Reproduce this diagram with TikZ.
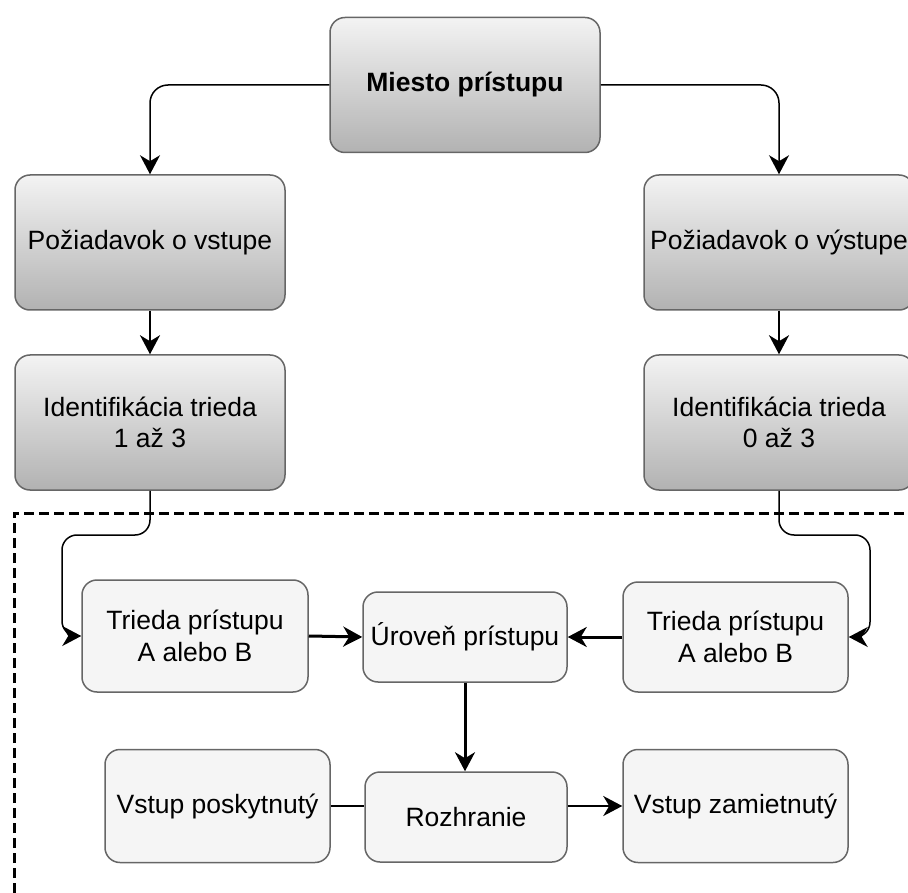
\documentclass[tikz,border=0pt]{standalone}
\usepackage{fontspec}
\setmainfont{Liberation Sans}
\usetikzlibrary{arrows.meta}

\definecolor{boxline}{HTML}{666666}
\definecolor{boxfill}{HTML}{F5F5F5}
\definecolor{shadetop}{HTML}{F3F3F3}
\definecolor{shadebot}{HTML}{B2B2B2}

\tikzset{
  basebox/.style={draw=boxline, line width=1.5pt, rounded corners=15pt,
    align=center, inner sep=0pt, anchor=center,
    font=\fontsize{26.5}{31.5}\selectfont},
  upperbox/.style={basebox, top color=shadetop, bottom color=shadebot,
    minimum width=270pt, minimum height=135pt},
  lowerbox/.style={basebox, fill=boxfill},
  arrowtip/.style={-{Stealth[length=19pt,width=20pt,inset=6pt]}},
  bentlink/.style={arrowtip, line width=1.5pt},
  plainlink/.style={line width=2pt},
  midlink/.style={arrowtip, line width=2.2pt},
  thicklink/.style={arrowtip, line width=3pt},
  frameline/.style={line width=3pt, dash pattern=on 10pt off 5pt}
}

\begin{document}
\begin{tikzpicture}[x=1pt, y=-1pt]
  \useasboundingbox (0,0) rectangle (908,893);

  % upper part: shaded request and identification boxes
  \node[upperbox, font=\fontsize{26.5}{31.5}\selectfont\bfseries] (top) at (465,85) {Miesto prístupu};
  \node[upperbox] (reqin)  at (150,242.5) {Požiadavok o vstupe};
  \node[upperbox] (reqout) at (779,242.5) {Požiadavok o výstupe};
  \node[upperbox] (idin)   at (150,422.5) {Identifikácia trieda\\1 až 3};
  \node[upperbox] (idout)  at (779,422.5) {Identifikácia trieda\\0 až 3};

  % lower part: access classes, level and interface
  \node[lowerbox, minimum width=226pt, minimum height=112pt] (clsl) at (195,636) {Trieda prístupu\\A alebo B};
  \node[lowerbox, minimum width=204pt, minimum height=90pt]  (lvl)  at (465,637) {Úroveň prístupu};
  \node[lowerbox, minimum width=225pt, minimum height=110pt] (clsr) at (735.5,637) {Trieda prístupu\\A alebo B};
  \node[lowerbox, minimum width=202pt, minimum height=90pt]  (rozh) at (466,817) {Rozhranie};
  \node[lowerbox, minimum width=225pt, minimum height=113pt] (grant) at (217.5,806) {Vstup poskytnutý};
  \node[lowerbox, minimum width=225pt, minimum height=113pt] (deny)  at (735.5,806) {Vstup zamietnutý};

  % open dashed frame around the lower part
  \draw[frameline] (14,893) -- (14,513) -- (908,513);

  % connectors from the access point
  \draw[bentlink, rounded corners=18pt] (top.west) -| (reqin.north);
  \draw[bentlink, rounded corners=18pt] (top.east) -| (reqout.north);
  \draw[midlink] (reqin.south) -- (idin.north);
  \draw[midlink] (reqout.south) -- (idout.north);

  % bent connectors into the access classes
  \coordinate (jl) at (62,535);
  \coordinate (jr) at (870,535);
  \coordinate (jl2) at (jl |- clsl.west);
  \coordinate (jr2) at (jr |- clsr.east);
  \draw[bentlink] (idin.south) [rounded corners=15pt] |- (jl) -- (jl2) [sharp corners] -- (clsl.west);
  \draw[bentlink] (idout.south) [rounded corners=15pt] |- (jr) -- (jr2) [sharp corners] -- (clsr.east);

  % access level and interface
  \draw[thicklink] (clsl.east) -- (lvl.west);
  \draw[thicklink] (clsr.east -| clsr.west) -- (lvl.east);
  \draw[thicklink] (lvl.south) -- (lvl.south |- rozh.north);
  \draw[plainlink] (grant.east) -- (grant.east -| rozh.west);
  \draw[arrowtip, line width=2pt] (deny.west -| rozh.east) -- (deny.west);
\end{tikzpicture}
\end{document}
